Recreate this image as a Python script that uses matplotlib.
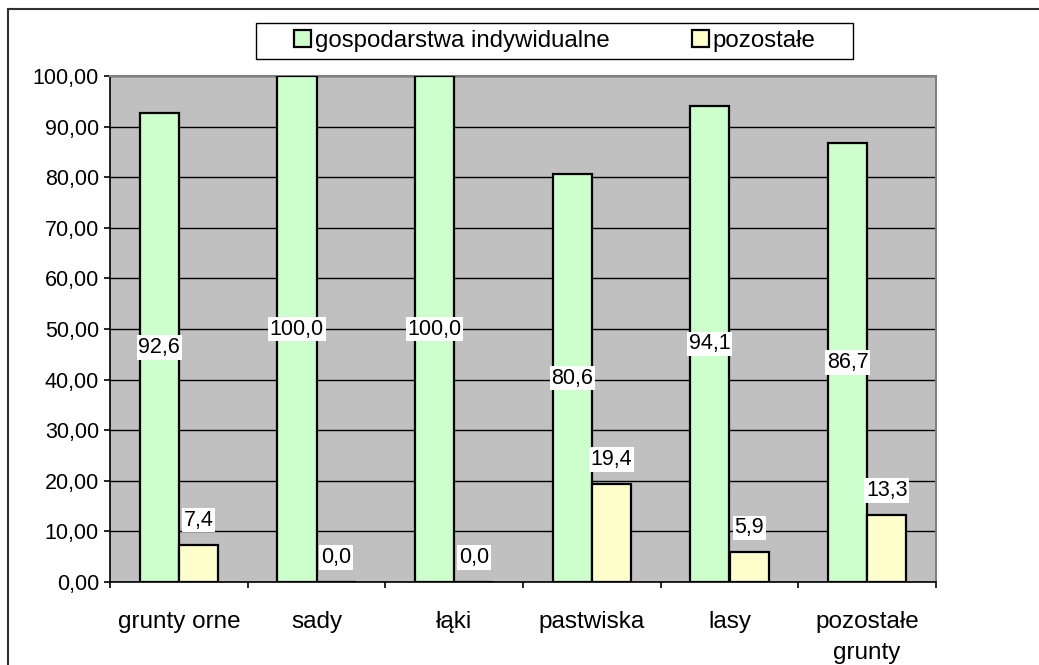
import matplotlib
matplotlib.use("Agg")
import matplotlib.pyplot as plt
import numpy as np
from matplotlib.lines import Line2D
from matplotlib.patches import Rectangle

plt.rcParams["font.family"] = ["Liberation Sans", "DejaVu Sans"]

categories = ["grunty orne", "sady", "łąki", "pastwiska", "lasy", "pozostałe\ngrunty"]
indywidualne = [92.6, 100.0, 100.0, 80.6, 94.1, 86.7]
pozostale = [7.4, 0.0, 0.0, 19.4, 5.9, 13.3]
series_names = ["gospodarstwa indywidualne", "pozostałe"]
yticks = np.arange(0, 101, 10)


def fmt(v, nd):
    return f"{v:.{nd}f}".replace(".", ",")


fig = plt.figure(figsize=(10.39, 6.65), dpi=100)
W, H = 1039, 665
ax = fig.add_axes([110 / W, 1 - 582 / H, (936 - 110) / W, (582 - 76) / H])
ax.set_facecolor("#c0c0c0")

x = np.arange(len(categories))
bw = 0.285
green = ax.bar(x - bw / 2, indywidualne, bw, color="#ccffcc", edgecolor="black", linewidth=1.6,
               label=series_names[0], zorder=3)
yellow = ax.bar(x + bw / 2, pozostale, bw, color="#ffffcc", edgecolor="black", linewidth=1.6,
                label=series_names[1], zorder=3)

box = dict(facecolor="white", edgecolor="none", pad=1.2)
for xi, v in zip(x, indywidualne):
    ax.text(xi - bw / 2, v / 2, fmt(v, 1), ha="center", va="center", fontsize=15.5, bbox=box, zorder=5)
for xi, v in zip(x, pozostale):
    ax.annotate(fmt(v, 1), xy=(xi + bw / 2, v), xytext=(0, 10), textcoords="offset points",
                ha="center", va="bottom", fontsize=15.5, bbox=box, zorder=5)

ax.set_xlim(-0.5, len(categories) - 0.5)
ax.set_ylim(0, 100)
ax.set_yticks(yticks)
ax.set_yticklabels([fmt(t, 2) for t in yticks], fontsize=15.5)
ax.yaxis.grid(True, color="black", linewidth=1.0, zorder=1)
ax.set_axisbelow(True)

ax.set_xticks(np.arange(len(categories) + 1) - 0.5)
ax.set_xticklabels([])
ax.set_xticks(x, minor=True)
ax.set_xticklabels(categories, minor=True, fontsize=17.5, linespacing=1.5)
ax.tick_params(axis="x", which="minor", length=0, pad=21)
ax.tick_params(axis="x", which="major", length=4, width=1.2, direction="out")
ax.tick_params(axis="y", length=4, width=1.2, direction="out", pad=4)
for s in ["left", "bottom"]:
    ax.spines[s].set_color("black")
    ax.spines[s].set_linewidth(1.2)
for s in ["top", "right"]:
    ax.spines[s].set_color("#808080")
    ax.spines[s].set_linewidth(1.5)

leg = fig.legend(handles=[green, yellow], labels=series_names, loc="center",
                 bbox_to_anchor=(555 / W, 1 - 41 / H), ncol=2, fontsize=17.3,
                 frameon=False, handlelength=0.7, handleheight=0.7, handletextpad=0.17,
                 columnspacing=3.4, borderpad=0.2)
fig.patches.append(Rectangle((256 / W, 1 - 59 / H), (853 - 256) / W, 36 / H,
                             transform=fig.transFigure, facecolor="white", edgecolor="black",
                             linewidth=1.0, zorder=0))

fig.lines.append(Line2D([8 / W, 8 / W], [0, 1 - 9 / H], transform=fig.transFigure,
                        color="#303030", linewidth=1.5))
fig.lines.append(Line2D([8 / W, 1], [1 - 9 / H, 1 - 9 / H], transform=fig.transFigure,
                        color="#303030", linewidth=1.5))

fig.savefig("out.png", dpi=100)
